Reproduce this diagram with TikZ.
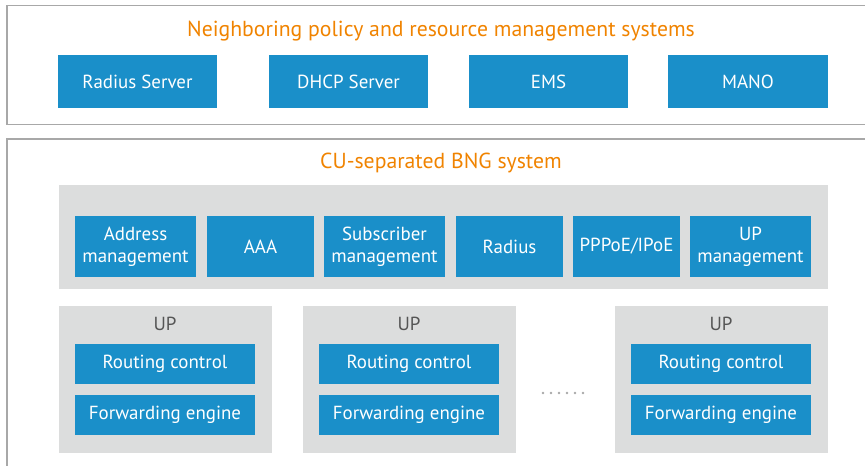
\documentclass[tikz,border=0pt]{standalone}
\usepackage{fontspec}
\setmainfont{PT Sans}
\usetikzlibrary{positioning}
\definecolor{bngblue}{RGB}{26,143,201}
\definecolor{bnggray}{RGB}{220,221,221}
\definecolor{bngorange}{RGB}{240,131,0}
\definecolor{bngline}{RGB}{168,168,168}
\definecolor{bngtext}{RGB}{85,85,85}
\newcommand{\px}{0.75pt}

\begin{document}
\begin{tikzpicture}[x=\px, y=-\px,
        blk/.style 2 args={fill=bngblue, text=white, inner sep=0pt, align=center,
            minimum width=#1*\px, minimum height=#2*\px, font=\fontsize{14.2}{16.4}\selectfont},
        ttl/.style={text=bngorange, anchor=base, inner sep=0pt, font=\fontsize{16.3}{19}\selectfont},
        uplbl/.style={text=bngtext, anchor=base, inner sep=0pt, font=\fontsize{14.2}{17}\selectfont},
        frame/.style={draw=bngline, line width=1.5*\px}]
        \clip (0,0) rectangle (865,466);
        \draw[frame] (7,5.5) rectangle (880,124.5);
        \draw[frame] (7,139) rectangle (880,480);
        \node[ttl] (nbtitle) at (441,37) {Neighboring policy and resource management systems};
        \node[blk={159}{53}] (radsrv) at (137.5,81.5) {Radius Server};
        \node[blk={159}{53}] (dhcp) at (348.5,81.5) {DHCP Server};
        \node[blk={159}{53}] (ems) at (548.5,81.5) {EMS};
        \node[blk={160}{53}] (mano) at (748,81.5) {MANO};
        \node[ttl] (bngtitle) at (441,169) {CU-separated BNG system};
        \fill[bnggray] (59,185) rectangle (828,289);
        \node[blk={121}{61}] (addr) at (135.5,246.5) {Address\\management};
        \node[blk={107}{61}] (aaa) at (260.5,246.5) {AAA};
        \node[blk={121}{61}] (subs) at (384.5,246.5) {Subscriber\\management};
        \node[blk={107}{61}] (radius) at (509.5,246.5) {Radius};
        \node[blk={107}{61}] (pppoe) at (626.5,246.5) {PPPoE/IPoE};
        \node[blk={121}{61}] (upmgmt) at (750.5,246.5) {UP\\management};
        \foreach \n/\x in {a/165,b/409,c/721} {
            \fill[bnggray] (\x-106.5,306) rectangle (\x+106.5,453);
            \node[uplbl] (up\n) at (\x,331) {UP};
            \node[blk={180}{40}] (route\n) at (\x,364) {Routing control};
            \node[blk={180}{40}] (fwd\n) at (\x,415) {Forwarding engine};
        }
        \foreach \i in {0,...,5}
            \fill[bngline] (543+\i*8,393) circle[radius=1pt];
    \end{tikzpicture}
\end{document}
